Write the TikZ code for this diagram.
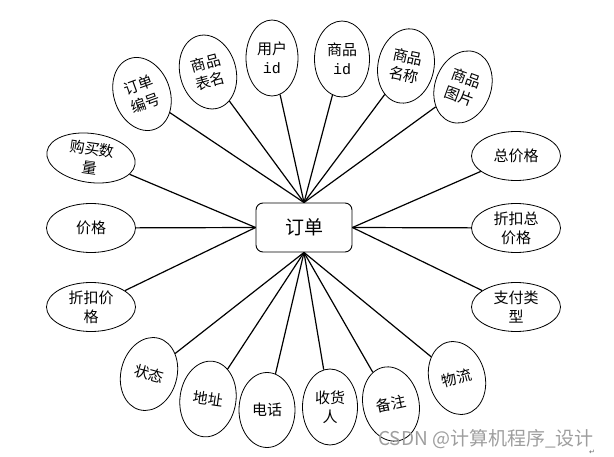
\documentclass[tikz,border=0pt]{standalone}
\usepackage{fontspec}
\newfontfamily\cjk{Noto Sans CJK SC}
\newfontfamily\monoid{Liberation Mono}
\newfontfamily\dejavu{DejaVu Sans}
\usetikzlibrary{shapes.geometric}
\begin{document}
\begin{tikzpicture}[x=1pt,y=-1pt,
  attr/.style={draw, ellipse, line width=0.8pt, inner sep=0pt, align=center,
    font=\cjk\fontsize{15}{19}\selectfont},
  tall/.style={attr, minimum width=56pt, minimum height=75pt},
  wide/.style={attr, minimum width=89pt, minimum height=49pt},
  conn/.style={line width=1.2pt}]
\useasboundingbox (0,0) rectangle (614,457);
\node[draw, rounded corners=7pt, minimum width=96pt, minimum height=49pt,
  line width=0.9pt, font=\cjk\fontsize{19}{22}\selectfont] (o) at (304,227.5) {订单};

\node[tall, rotate=20] (n1) at (142,94) {订单\\编号};
\node[tall, rotate=15] (n2) at (208,72) {商品\\表名};
\node[tall, minimum width=52pt, minimum height=76pt] (n3) at (272,58) {用户\\{\monoid id}};
\node[tall, minimum width=55pt, minimum height=76pt] (n4) at (342,59) {商品\\{\monoid id}};
\node[tall, rotate=-12] (n5) at (406,66) {商品\\名称};
\node[tall, rotate=-20, minimum height=74pt] (n6) at (463,87) {商品\\图片};
\node[wide] (n7) at (516,156) {总价格};
\node[wide] (n8) at (516,228) {折扣总\\价格};
\node[wide] (n9) at (516,307) {支付类\\型};
\node[wide, rotate=-8] (n10) at (91,158) {购买数\\量};
\node[wide] (n11) at (91,228) {价格};
\node[wide] (n12) at (91,307) {折扣价\\格};
\node[tall, rotate=-15, minimum height=74pt] (n13) at (149,374) {状态};
\node[tall, rotate=-8, minimum height=76pt] (n14) at (208,399) {地址};
\node[tall] (n15) at (267,410) {电话};
\node[tall, minimum width=55pt, minimum height=76pt] (n16) at (330,407) {收货\\人};
\node[tall, rotate=12] (n17) at (391,404) {备注};
\node[tall, rotate=15, minimum height=74pt] (n18) at (457,378) {物流};

\foreach \n in {n1,n2,n3,n4,n5,n6} \draw[conn] (o.north) -- (\n);
\foreach \n in {n10,n11,n12} \draw[conn] (o.west) -- (\n);
\foreach \n in {n7,n8,n9} \draw[conn] (o.east) -- (\n);
\foreach \n in {n13,n14,n15,n16,n17,n18} \draw[conn] (o.south) -- (\n);

\node[font=\cjk\fontsize{19}{22}\selectfont, text=black!38, inner sep=0pt, anchor=base west] (wm) at (378,446) {CSDN @计算机程序\_设计};
\node[font=\dejavu\fontsize{7}{8}\selectfont, text=black!60, inner sep=0pt] (ret) at (592,452) {↵};
\end{tikzpicture}
\end{document}
